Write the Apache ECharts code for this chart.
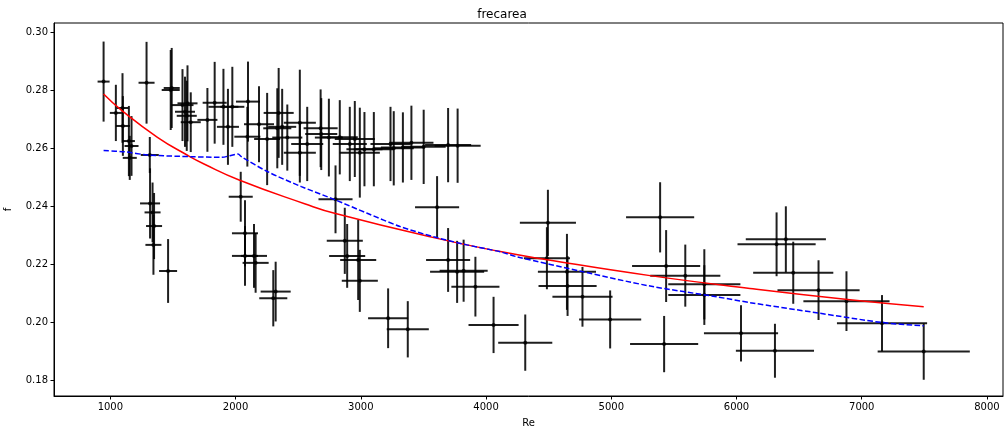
<!DOCTYPE html>
<html>
<head>
<meta charset="utf-8">
<script src="https://cdn.jsdelivr.net/npm/echarts@6/dist/echarts.min.js"></script>
<style>
  html, body { margin: 0; padding: 0; background: #fff; }
  #chart { width: 1004px; height: 426px; }
</style>
</head>
<body>
<div id="chart"></div>
<script>
// Measured points: Reynolds number, friction factor and their uncertainties
const reValues = [
  946, 1044, 1097, 1100, 1148, 1169, 1155,
  1289, 1315, 1317, 1337, 1349, 1344, 1461,
  1482, 1490, 1576, 1616, 1596, 1610, 1642,
  1775, 1833, 1903, 1974, 1939, 2099, 2094,
  2187, 2252, 2344, 2333, 2372, 2413, 2513,
  2513, 2572, 2679, 2684, 2745, 2832, 2912,
  2952, 2992, 3029, 3104, 3237, 3263, 3336,
  3404, 3502, 3697, 3773,
  2041, 2075, 2147, 2075, 2160, 2320, 2301,
  2798, 2872, 2891, 2979, 2992, 3218, 3375,
  3609, 3697, 3769, 3821, 3915, 4060, 4313,
  4494, 4486, 4646, 4651, 4770, 4991, 5390,
  5438, 5591, 5743, 5743, 5422, 6036, 6307,
  6320, 6394, 6453, 6655, 6878, 7162, 7495
];
const fValues = [
  0.2829, 0.2721, 0.2738, 0.2676, 0.2624, 0.2607, 0.2566,
  0.2825, 0.2576, 0.2409, 0.2378, 0.2331, 0.2266, 0.2176,
  0.2800, 0.2807, 0.2748, 0.2754, 0.2725, 0.2711, 0.2689,
  0.2697, 0.2756, 0.2742, 0.2742, 0.2673, 0.2760, 0.2639,
  0.2682, 0.2631, 0.2721, 0.2668, 0.2673, 0.2636, 0.2687,
  0.2584, 0.2614, 0.2668, 0.2648, 0.2636, 0.2637, 0.2614,
  0.2631, 0.2584, 0.2596, 0.2596, 0.2614, 0.2599, 0.2602,
  0.2618, 0.2604, 0.2610, 0.2608,
  0.2432, 0.2306, 0.2228, 0.2228, 0.2204, 0.2105, 0.2082,
  0.2423, 0.2280, 0.2228, 0.2214, 0.2142, 0.2013, 0.1975,
  0.2396, 0.2214, 0.2173, 0.2177, 0.2122, 0.1990, 0.1929,
  0.2342, 0.2220, 0.2173, 0.2124, 0.2087, 0.2009, 0.2361,
  0.2193, 0.2160, 0.2130, 0.2093, 0.1924, 0.1961, 0.1901,
  0.2268, 0.2285, 0.2170, 0.2110, 0.2072, 0.1996, 0.1898
];
const reErrors = [
  48, 48, 48, 56, 48, 56, 56,
  64, 72, 80, 64, 64, 64, 72,
  72, 64, 88, 80, 80, 80, 80,
  80, 96, 120, 96, 88, 96, 104,
  120, 104, 120, 112, 112, 120, 128,
  128, 128, 136, 128, 112, 144, 136,
  160, 160, 144, 160, 160, 160, 176,
  176, 176, 184, 184,
  96, 104, 104, 104, 104, 120, 112,
  136, 144, 144, 144, 144, 160, 168,
  176, 176, 216, 192, 192, 200, 216,
  224, 184, 232, 232, 240, 248, 272,
  272, 280, 288, 288, 272, 296, 312,
  312, 320, 320, 328, 344, 360, 368
];
const fErrors = [
  0.0138, 0.0097, 0.0120, 0.0103, 0.0121, 0.0103, 0.0076,
  0.0141, 0.0062, 0.0121, 0.0103, 0.0114, 0.0103, 0.0110,
  0.0138, 0.0138, 0.0124, 0.0131, 0.0121, 0.0121, 0.0103,
  0.0110, 0.0141, 0.0131, 0.0138, 0.0131, 0.0138, 0.0103,
  0.0131, 0.0159, 0.0155, 0.0138, 0.0131, 0.0114, 0.0183,
  0.0103, 0.0128, 0.0134, 0.0124, 0.0134, 0.0128, 0.0128,
  0.0131, 0.0155, 0.0128, 0.0128, 0.0128, 0.0128, 0.0121,
  0.0128, 0.0128, 0.0128, 0.0128,
  0.0086, 0.0114, 0.0110, 0.0103, 0.0103, 0.0103, 0.0097,
  0.0117, 0.0114, 0.0110, 0.0138, 0.0107, 0.0103, 0.0097,
  0.0107, 0.0110, 0.0107, 0.0107, 0.0103, 0.0097, 0.0097,
  0.0114, 0.0107, 0.0131, 0.0103, 0.0103, 0.0100, 0.0121,
  0.0124, 0.0107, 0.0121, 0.0103, 0.0097, 0.0097, 0.0093,
  0.0110, 0.0114, 0.0107, 0.0103, 0.0103, 0.0097, 0.0097
];

// Power-law fit (solid red)
const fitRe = [946, 1097, 1376, 1616, 1748, 2033, 2551, 2798, 3582, 4114, 4486, 5310, 6107, 6905, 7495];
const fitF  = [0.2786, 0.2727, 0.2637, 0.2575, 0.2545, 0.2489, 0.2408, 0.2374, 0.2291, 0.2243, 0.2215, 0.2160, 0.2116, 0.2077, 0.2053];

// Reference correlation (dashed blue)
const corrRe = [946, 1110, 1301, 1648, 1887, 2019, 2046, 2258, 2525, 2785, 3051, 3316, 3582, 3848, 4114, 4247, 4778, 5310, 5842, 6107, 6639, 7170, 7495];
const corrF  = [0.2591, 0.2587, 0.2576, 0.2570, 0.2568, 0.2579, 0.2570, 0.2518, 0.2467, 0.2423, 0.2375, 0.2329, 0.2294, 0.2266, 0.2242, 0.2225, 0.2173, 0.2124, 0.2087, 0.2067, 0.2032, 0.1998, 0.1987];

// Axis ticks
const reTicks = [1000, 2000, 3000, 4000, 5000, 6000, 7000, 8000];
const fTicks = [0.18, 0.20, 0.22, 0.24, 0.26, 0.28, 0.30];

const errData = reValues.map((re, i) => [re, fValues[i], reErrors[i], fErrors[i]]);
const pointData = reValues.map((re, i) => [re, fValues[i]]);
const fitData = fitRe.map((re, i) => [re, fitF[i]]);
const corrData = corrRe.map((re, i) => [re, corrF[i]]);

const FONT = 'DejaVu Sans';
const chart = echarts.init(document.getElementById('chart'), null, { renderer: 'canvas' });

function renderErrorBar(params, api) {
  const x = api.value(0), y = api.value(1), dx = api.value(2), dy = api.value(3);
  const left = api.coord([x - dx, y]);
  const right = api.coord([x + dx, y]);
  const top = api.coord([x, y + dy]);
  const bottom = api.coord([x, y - dy]);
  const style = { stroke: 'rgba(0,0,0,0.88)', lineWidth: 2 };
  return {
    type: 'group',
    children: [
      { type: 'line', shape: { x1: left[0], y1: left[1], x2: right[0], y2: right[1] }, style: style },
      { type: 'line', shape: { x1: top[0], y1: top[1], x2: bottom[0], y2: bottom[1] }, style: style }
    ]
  };
}

chart.setOption({
  animation: false,
  backgroundColor: '#fff',
  title: {
    text: 'frecarea',
    left: 'center',
    top: 4,
    textStyle: { fontFamily: FONT, fontSize: 12, fontWeight: 'normal', color: '#000' }
  },
  grid: {
    left: 54, right: 1, top: 23, bottom: 30,
    outerBoundsMode: 'none',
    containLabel: false,
    show: true, borderColor: '#000', borderWidth: 1, backgroundColor: '#fff'
  },
  xAxis: {
    type: 'value',
    min: 550, max: 8128,
    name: 'Re',
    nameLocation: 'middle',
    nameGap: 22,
    nameTextStyle: { fontFamily: FONT, fontSize: 10, color: '#000' },
    axisLine: { show: true, lineStyle: { color: '#000', width: 1 } },
    axisTick: { show: true, inside: false, length: 3.5, customValues: reTicks, lineStyle: { color: '#000' } },
    axisLabel: {
      customValues: reTicks, fontFamily: FONT, fontSize: 10, color: '#000', margin: 6,
      formatter: v => String(Math.round(v))
    },
    splitLine: { show: false }
  },
  yAxis: {
    type: 'value',
    min: 0.1745, max: 0.3031,
    name: 'f',
    nameLocation: 'middle',
    nameGap: 41,
    nameTextStyle: { fontFamily: FONT, fontSize: 10, color: '#000' },
    axisLine: { show: true, lineStyle: { color: '#000', width: 1 } },
    axisTick: { show: true, inside: false, length: 3.5, customValues: fTicks, lineStyle: { color: '#000' } },
    axisLabel: {
      customValues: fTicks, fontFamily: FONT, fontSize: 10, color: '#000', margin: 6,
      formatter: v => v.toFixed(2)
    },
    splitLine: { show: false }
  },
  series: [
    {
      type: 'custom',
      name: 'error',
      renderItem: renderErrorBar,
      data: errData,
      encode: { x: 0, y: 1 },
      z: 2
    },
    {
      type: 'scatter',
      name: 'data',
      data: pointData,
      symbol: 'circle',
      symbolSize: 4,
      itemStyle: { color: '#000' },
      z: 3
    },
    {
      type: 'line',
      name: 'fit',
      data: fitData,
      smooth: true,
      showSymbol: false,
      lineStyle: { color: '#ff0000', width: 1.5 },
      z: 4
    },
    {
      type: 'line',
      name: 'correlation',
      data: corrData,
      smooth: 0.3,
      showSymbol: false,
      lineStyle: { color: '#0000ff', width: 1.5, type: [5.5, 2.4] },
      z: 4
    }
  ]
});
</script>
</body>
</html>
